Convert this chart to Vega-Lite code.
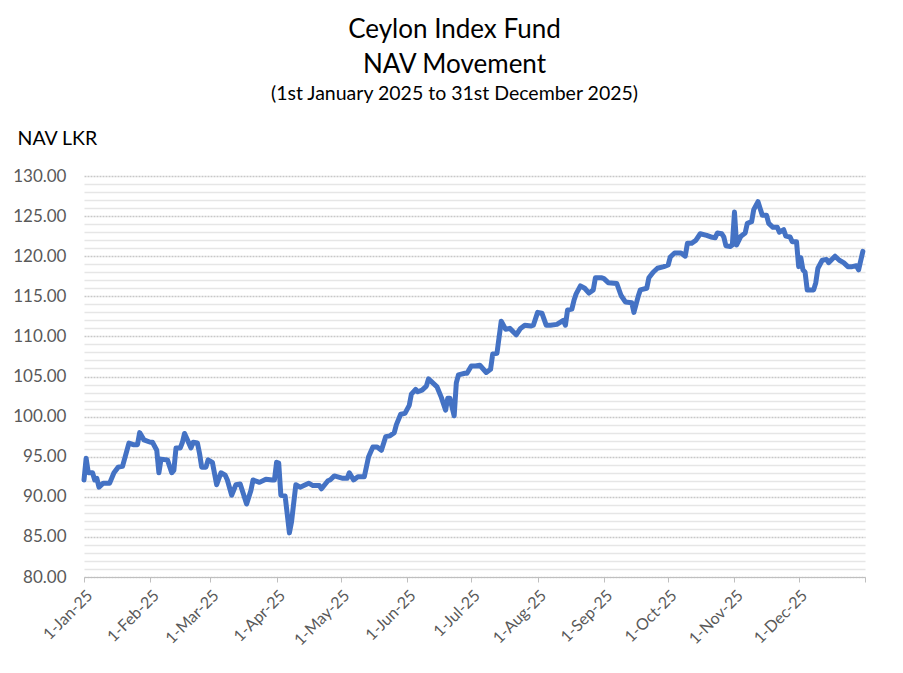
{
  "$schema": "https://vega.github.io/schema/vega-lite/v6.json",
  "autosize": {"type": "none"},
  "padding": {"left": 84, "top": 176, "right": 38, "bottom": 96},
  "width": 781,
  "height": 401,
  "background": "white",
  "config": {
    "font": "Lato",
    "view": {"stroke": null}
  },
  "title": {
    "text": ["Ceylon Index Fund", "NAV Movement"],
    "subtitle": "(1st January 2025 to 31st December 2025)",
    "anchor": "middle",
    "frame": "group",
    "dx": -20,
    "offset": 25,
    "fontSize": 26,
    "fontWeight": "normal",
    "lineHeight": 35,
    "color": "#000000",
    "subtitleFontSize": 19.5,
    "subtitleColor": "#000000",
    "subtitlePadding": 7,
    "font": "Lato",
    "subtitleFont": "Lato"
  },
  "data": {
    "values": [
      {"date": "2025-01-01T00:00:00", "nav": 92.1},
      {"date": "2025-01-02T00:00:00", "nav": 94.8},
      {"date": "2025-01-03T00:00:00", "nav": 93.0},
      {"date": "2025-01-05T00:00:00", "nav": 93.0},
      {"date": "2025-01-06T00:00:00", "nav": 92.1},
      {"date": "2025-01-07T00:00:00", "nav": 92.3},
      {"date": "2025-01-08T00:00:00", "nav": 91.2},
      {"date": "2025-01-10T00:00:00", "nav": 91.7},
      {"date": "2025-01-13T00:00:00", "nav": 91.7},
      {"date": "2025-01-15T00:00:00", "nav": 93.0},
      {"date": "2025-01-17T00:00:00", "nav": 93.7},
      {"date": "2025-01-19T00:00:00", "nav": 93.8},
      {"date": "2025-01-22T00:00:00", "nav": 96.7},
      {"date": "2025-01-24T00:00:00", "nav": 96.5},
      {"date": "2025-01-26T00:00:00", "nav": 96.5},
      {"date": "2025-01-27T00:00:00", "nav": 98.0},
      {"date": "2025-01-29T00:00:00", "nav": 97.1},
      {"date": "2025-02-01T00:00:00", "nav": 96.8},
      {"date": "2025-02-02T00:00:00", "nav": 96.8},
      {"date": "2025-02-04T00:00:00", "nav": 95.8},
      {"date": "2025-02-05T00:00:00", "nav": 93.0},
      {"date": "2025-02-06T00:00:00", "nav": 94.7},
      {"date": "2025-02-09T00:00:00", "nav": 94.6},
      {"date": "2025-02-11T00:00:00", "nav": 93.0},
      {"date": "2025-02-12T00:00:00", "nav": 93.3},
      {"date": "2025-02-13T00:00:00", "nav": 96.1},
      {"date": "2025-02-15T00:00:00", "nav": 96.1},
      {"date": "2025-02-16T00:00:00", "nav": 96.8},
      {"date": "2025-02-17T00:00:00", "nav": 97.9},
      {"date": "2025-02-20T00:00:00", "nav": 96.1},
      {"date": "2025-02-21T00:00:00", "nav": 96.8},
      {"date": "2025-02-23T00:00:00", "nav": 96.7},
      {"date": "2025-02-24T00:00:00", "nav": 95.4},
      {"date": "2025-02-25T00:00:00", "nav": 93.7},
      {"date": "2025-02-27T00:00:00", "nav": 93.7},
      {"date": "2025-02-28T00:00:00", "nav": 94.6},
      {"date": "2025-03-02T00:00:00", "nav": 94.3},
      {"date": "2025-03-04T00:00:00", "nav": 91.5},
      {"date": "2025-03-06T00:00:00", "nav": 93.0},
      {"date": "2025-03-08T00:00:00", "nav": 92.7},
      {"date": "2025-03-09T00:00:00", "nav": 92.1},
      {"date": "2025-03-11T00:00:00", "nav": 90.2},
      {"date": "2025-03-13T00:00:00", "nav": 91.5},
      {"date": "2025-03-15T00:00:00", "nav": 91.6},
      {"date": "2025-03-18T00:00:00", "nav": 89.1},
      {"date": "2025-03-20T00:00:00", "nav": 90.8},
      {"date": "2025-03-21T00:00:00", "nav": 92.1},
      {"date": "2025-03-24T00:00:00", "nav": 91.8},
      {"date": "2025-03-27T00:00:00", "nav": 92.2},
      {"date": "2025-03-30T00:00:00", "nav": 92.1},
      {"date": "2025-03-31T00:00:00", "nav": 92.1},
      {"date": "2025-04-01T00:00:00", "nav": 94.3},
      {"date": "2025-04-02T00:00:00", "nav": 94.2},
      {"date": "2025-04-03T00:00:00", "nav": 90.2},
      {"date": "2025-04-05T00:00:00", "nav": 90.1},
      {"date": "2025-04-07T00:00:00", "nav": 85.5},
      {"date": "2025-04-08T00:00:00", "nav": 86.9},
      {"date": "2025-04-10T00:00:00", "nav": 91.5},
      {"date": "2025-04-12T00:00:00", "nav": 91.2},
      {"date": "2025-04-16T00:00:00", "nav": 91.7},
      {"date": "2025-04-18T00:00:00", "nav": 91.4},
      {"date": "2025-04-21T00:00:00", "nav": 91.4},
      {"date": "2025-04-22T00:00:00", "nav": 91.0},
      {"date": "2025-04-25T00:00:00", "nav": 92.0},
      {"date": "2025-04-26T00:00:00", "nav": 92.1},
      {"date": "2025-04-28T00:00:00", "nav": 92.6},
      {"date": "2025-05-02T00:00:00", "nav": 92.3},
      {"date": "2025-05-04T00:00:00", "nav": 92.3},
      {"date": "2025-05-05T00:00:00", "nav": 93.0},
      {"date": "2025-05-07T00:00:00", "nav": 92.1},
      {"date": "2025-05-09T00:00:00", "nav": 92.5},
      {"date": "2025-05-12T00:00:00", "nav": 92.5},
      {"date": "2025-05-14T00:00:00", "nav": 95.0},
      {"date": "2025-05-16T00:00:00", "nav": 96.2},
      {"date": "2025-05-18T00:00:00", "nav": 96.2},
      {"date": "2025-05-20T00:00:00", "nav": 95.8},
      {"date": "2025-05-22T00:00:00", "nav": 97.5},
      {"date": "2025-05-24T00:00:00", "nav": 97.6},
      {"date": "2025-05-26T00:00:00", "nav": 98.0},
      {"date": "2025-05-27T00:00:00", "nav": 99.0},
      {"date": "2025-05-29T00:00:00", "nav": 100.3},
      {"date": "2025-05-31T00:00:00", "nav": 100.4},
      {"date": "2025-06-02T00:00:00", "nav": 101.4},
      {"date": "2025-06-03T00:00:00", "nav": 102.8},
      {"date": "2025-06-05T00:00:00", "nav": 103.4},
      {"date": "2025-06-06T00:00:00", "nav": 103.1},
      {"date": "2025-06-08T00:00:00", "nav": 103.3},
      {"date": "2025-06-10T00:00:00", "nav": 103.8},
      {"date": "2025-06-11T00:00:00", "nav": 104.7},
      {"date": "2025-06-13T00:00:00", "nav": 104.2},
      {"date": "2025-06-15T00:00:00", "nav": 103.7},
      {"date": "2025-06-17T00:00:00", "nav": 102.4},
      {"date": "2025-06-19T00:00:00", "nav": 100.8},
      {"date": "2025-06-20T00:00:00", "nav": 102.3},
      {"date": "2025-06-21T00:00:00", "nav": 102.3},
      {"date": "2025-06-23T00:00:00", "nav": 100.1},
      {"date": "2025-06-24T00:00:00", "nav": 104.2},
      {"date": "2025-06-25T00:00:00", "nav": 105.2},
      {"date": "2025-06-28T00:00:00", "nav": 105.4},
      {"date": "2025-06-29T00:00:00", "nav": 105.4},
      {"date": "2025-07-01T00:00:00", "nav": 106.3},
      {"date": "2025-07-03T00:00:00", "nav": 106.3},
      {"date": "2025-07-05T00:00:00", "nav": 106.4},
      {"date": "2025-07-08T00:00:00", "nav": 105.5},
      {"date": "2025-07-10T00:00:00", "nav": 105.9},
      {"date": "2025-07-11T00:00:00", "nav": 107.8},
      {"date": "2025-07-13T00:00:00", "nav": 107.9},
      {"date": "2025-07-15T00:00:00", "nav": 111.9},
      {"date": "2025-07-17T00:00:00", "nav": 110.9},
      {"date": "2025-07-19T00:00:00", "nav": 111.0},
      {"date": "2025-07-22T00:00:00", "nav": 110.2},
      {"date": "2025-07-24T00:00:00", "nav": 111.0},
      {"date": "2025-07-26T00:00:00", "nav": 111.4},
      {"date": "2025-07-29T00:00:00", "nav": 111.3},
      {"date": "2025-07-30T00:00:00", "nav": 111.4},
      {"date": "2025-08-01T00:00:00", "nav": 113.0},
      {"date": "2025-08-03T00:00:00", "nav": 112.9},
      {"date": "2025-08-05T00:00:00", "nav": 111.4},
      {"date": "2025-08-07T00:00:00", "nav": 111.4},
      {"date": "2025-08-10T00:00:00", "nav": 111.5},
      {"date": "2025-08-13T00:00:00", "nav": 112.0},
      {"date": "2025-08-14T00:00:00", "nav": 111.4},
      {"date": "2025-08-15T00:00:00", "nav": 113.3},
      {"date": "2025-08-17T00:00:00", "nav": 113.4},
      {"date": "2025-08-18T00:00:00", "nav": 114.5},
      {"date": "2025-08-19T00:00:00", "nav": 115.3},
      {"date": "2025-08-21T00:00:00", "nav": 116.3},
      {"date": "2025-08-23T00:00:00", "nav": 116.0},
      {"date": "2025-08-25T00:00:00", "nav": 115.4},
      {"date": "2025-08-27T00:00:00", "nav": 115.8},
      {"date": "2025-08-28T00:00:00", "nav": 117.3},
      {"date": "2025-08-31T00:00:00", "nav": 117.3},
      {"date": "2025-09-01T00:00:00", "nav": 117.2},
      {"date": "2025-09-03T00:00:00", "nav": 116.7},
      {"date": "2025-09-07T00:00:00", "nav": 116.6},
      {"date": "2025-09-09T00:00:00", "nav": 115.1},
      {"date": "2025-09-11T00:00:00", "nav": 114.3},
      {"date": "2025-09-14T00:00:00", "nav": 114.2},
      {"date": "2025-09-15T00:00:00", "nav": 113.0},
      {"date": "2025-09-17T00:00:00", "nav": 115.0},
      {"date": "2025-09-18T00:00:00", "nav": 115.8},
      {"date": "2025-09-21T00:00:00", "nav": 116.0},
      {"date": "2025-09-22T00:00:00", "nav": 117.3},
      {"date": "2025-09-24T00:00:00", "nav": 118.0},
      {"date": "2025-09-26T00:00:00", "nav": 118.5},
      {"date": "2025-09-29T00:00:00", "nav": 118.7},
      {"date": "2025-10-01T00:00:00", "nav": 118.9},
      {"date": "2025-10-02T00:00:00", "nav": 119.9},
      {"date": "2025-10-04T00:00:00", "nav": 120.4},
      {"date": "2025-10-07T00:00:00", "nav": 120.4},
      {"date": "2025-10-09T00:00:00", "nav": 120.0},
      {"date": "2025-10-10T00:00:00", "nav": 121.6},
      {"date": "2025-10-12T00:00:00", "nav": 121.6},
      {"date": "2025-10-14T00:00:00", "nav": 122.0},
      {"date": "2025-10-16T00:00:00", "nav": 122.8},
      {"date": "2025-10-19T00:00:00", "nav": 122.6},
      {"date": "2025-10-21T00:00:00", "nav": 122.4},
      {"date": "2025-10-23T00:00:00", "nav": 122.3},
      {"date": "2025-10-24T00:00:00", "nav": 122.9},
      {"date": "2025-10-26T00:00:00", "nav": 122.8},
      {"date": "2025-10-27T00:00:00", "nav": 122.4},
      {"date": "2025-10-28T00:00:00", "nav": 121.3},
      {"date": "2025-10-30T00:00:00", "nav": 121.2},
      {"date": "2025-10-31T00:00:00", "nav": 121.4},
      {"date": "2025-11-01T00:00:00", "nav": 125.5},
      {"date": "2025-11-02T00:00:00", "nav": 121.4},
      {"date": "2025-11-04T00:00:00", "nav": 122.5},
      {"date": "2025-11-06T00:00:00", "nav": 122.9},
      {"date": "2025-11-07T00:00:00", "nav": 124.1},
      {"date": "2025-11-09T00:00:00", "nav": 124.3},
      {"date": "2025-11-10T00:00:00", "nav": 125.8},
      {"date": "2025-11-12T00:00:00", "nav": 126.8},
      {"date": "2025-11-14T00:00:00", "nav": 125.1},
      {"date": "2025-11-16T00:00:00", "nav": 125.1},
      {"date": "2025-11-17T00:00:00", "nav": 124.1},
      {"date": "2025-11-19T00:00:00", "nav": 123.6},
      {"date": "2025-11-21T00:00:00", "nav": 123.6},
      {"date": "2025-11-22T00:00:00", "nav": 123.0},
      {"date": "2025-11-24T00:00:00", "nav": 123.3},
      {"date": "2025-11-25T00:00:00", "nav": 122.5},
      {"date": "2025-11-27T00:00:00", "nav": 122.4},
      {"date": "2025-11-28T00:00:00", "nav": 121.8},
      {"date": "2025-11-30T00:00:00", "nav": 121.8},
      {"date": "2025-12-01T00:00:00", "nav": 118.7},
      {"date": "2025-12-02T00:00:00", "nav": 119.8},
      {"date": "2025-12-03T00:00:00", "nav": 118.3},
      {"date": "2025-12-04T00:00:00", "nav": 118.0},
      {"date": "2025-12-05T00:00:00", "nav": 115.8},
      {"date": "2025-12-08T00:00:00", "nav": 115.8},
      {"date": "2025-12-09T00:00:00", "nav": 116.7},
      {"date": "2025-12-10T00:00:00", "nav": 118.5},
      {"date": "2025-12-12T00:00:00", "nav": 119.5},
      {"date": "2025-12-14T00:00:00", "nav": 119.6},
      {"date": "2025-12-15T00:00:00", "nav": 119.2},
      {"date": "2025-12-18T00:00:00", "nav": 120.0},
      {"date": "2025-12-20T00:00:00", "nav": 119.5},
      {"date": "2025-12-22T00:00:00", "nav": 119.2},
      {"date": "2025-12-24T00:00:00", "nav": 118.7},
      {"date": "2025-12-26T00:00:00", "nav": 118.7},
      {"date": "2025-12-28T00:00:00", "nav": 118.8},
      {"date": "2025-12-29T00:00:00", "nav": 118.3},
      {"date": "2025-12-31T00:00:00", "nav": 120.6}
    ]
  },
  "mark": {"type": "line", "color": "#4472C4", "strokeWidth": 5, "strokeJoin": "round", "strokeCap": "round"},
  "encoding": {
    "x": {
      "field": "date",
      "type": "temporal",
      "scale": {"domain": [{"year": 2025, "month": 1, "date": 1}, {"year": 2026, "month": 1, "date": 1}]},
      "axis": {
        "title": null,
        "values": [
          {"year": 2025, "month": 1, "date": 1},
          {"year": 2025, "month": 2, "date": 1},
          {"year": 2025, "month": 3, "date": 1},
          {"year": 2025, "month": 4, "date": 1},
          {"year": 2025, "month": 5, "date": 1},
          {"year": 2025, "month": 6, "date": 1},
          {"year": 2025, "month": 7, "date": 1},
          {"year": 2025, "month": 8, "date": 1},
          {"year": 2025, "month": 9, "date": 1},
          {"year": 2025, "month": 10, "date": 1},
          {"year": 2025, "month": 11, "date": 1},
          {"year": 2025, "month": 12, "date": 1},
          {"year": 2026, "month": 1, "date": 1}
        ],
        "labelExpr": "year(datum.value) === 2026 ? '' : timeFormat(datum.value, '%-d-%b-%y')",
        "labelAngle": -45,
        "labelAlign": "right",
        "labelBaseline": "top",
        "labelFontSize": 16,
        "labelColor": "#595959",
        "labelFont": "Lato",
        "labelPadding": 5,
        "labelOverlap": false,
        "labelFlush": false,
        "grid": false,
        "domainColor": "#BFBFBF",
        "domainWidth": 1,
        "tickColor": "#BFBFBF",
        "tickSize": 5
      }
    },
    "y": {
      "field": "nav",
      "type": "quantitative",
      "scale": {"domain": [80, 130], "nice": false, "zero": false},
      "axis": {
        "title": "NAV LKR",
        "titleAngle": 0,
        "titleX": -67,
        "titleY": -38,
        "titleAlign": "left",
        "titleBaseline": "middle",
        "titleFontSize": 19.5,
        "titleFontWeight": "normal",
        "titleColor": "#000000",
        "titleFont": "Lato",
        "values": [80,81,82,83,84,85,86,87,88,89,90,91,92,93,94,95,96,97,98,99,100,101,102,103,104,105,106,107,108,109,110,111,112,113,114,115,116,117,118,119,120,121,122,123,124,125,126,127,128,129,130],
        "labelExpr": "datum.value % 5 === 0 ? format(datum.value, '.2f') : ''",
        "labelFontSize": 17,
        "labelColor": "#595959",
        "labelFont": "Lato",
        "labelPadding": 18,
        "ticks": false,
        "domain": false,
        "grid": true,
        "gridColor": {"condition": {"test": "datum.value % 5 === 0", "value": "#C8C8C8"}, "value": "#E6E6E6"},
        "gridDash": {"condition": {"test": "datum.value % 5 === 0", "value": [2, 1]}, "value": []},
        "gridWidth": 1.5
      }
    }
  }
}
